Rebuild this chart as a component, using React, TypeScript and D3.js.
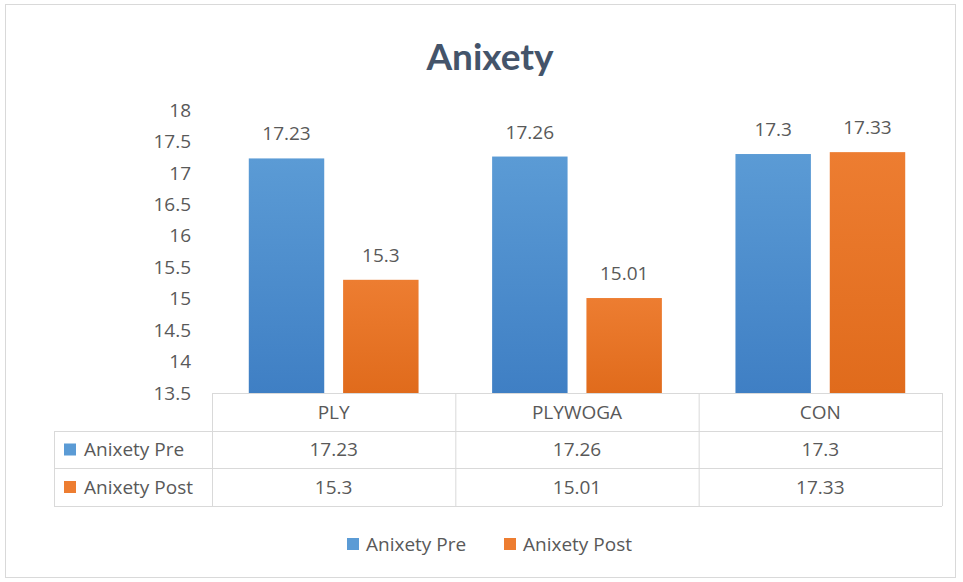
import React from "react";
import * as d3 from "d3";

const categories = ["PLY", "PLYWOGA", "CON"];
const seriesNames = ["Anixety Pre", "Anixety Post"];
const preValues = [17.23, 17.26, 17.3];
const postValues = [15.3, 15.01, 17.33];
const yTicks = [13.5, 14, 14.5, 15, 15.5, 16, 16.5, 17, 17.5, 18];
const title = "Anixety";

const W = 963;
const H = 582;
const FONT = "'Open Sans', Lato, sans-serif";
const TXT = "#595959";
const COLORS = ["#5b9bd5", "#ed7d31"];
const DARK = ["#3f7fc4", "#e06b1c"];
const FS = 19;

export default function App() {
  const left = 212;
  const right = 942;
  const top = 110;
  const bottom = 393;
  const y = d3.scaleLinear().domain([13.5, 18]).range([bottom, top]);
  const x = d3.scaleBand<string>().domain(categories).range([left, right]);
  const inner = d3
    .scaleBand<string>()
    .domain(seriesNames)
    .range([0, x.bandwidth()])
    .paddingInner(0.2)
    .paddingOuter(0.39);
  const series = [preValues, postValues];
  const tableLeft = 54;
  const rowH = [bottom, 431, 468, 506];

  return (
    <svg width={W} height={H} style={{ position: "absolute", left: 0, top: 0 }} fontFamily={FONT}>
      <defs>
        {COLORS.map((c, i) => (
          <linearGradient key={i} id={`g${i}`} x1="0" y1="0" x2="0" y2="1">
            <stop offset="0" stopColor={c} />
            <stop offset="1" stopColor={DARK[i]} />
          </linearGradient>
        ))}
      </defs>
      <rect x={0} y={0} width={W} height={H} fill="#fff" />
      <rect x={5.5} y={4.5} width={950} height={573} fill="#fff" stroke="#d9d9d9" />
      <text x={490} y={70} textAnchor="middle" fontSize={37} fontWeight="bold" fill="#44546a" fontFamily="Lato, sans-serif">
        {title}
      </text>
      {yTicks.map((t) => (
        <text key={t} x={191} y={y(t)} dy="0.35em" textAnchor="end" fontSize={FS} fill={TXT}>
          {t}
        </text>
      ))}
      {categories.map((c, ci) =>
        series.map((vals, si) => {
          const bx = (x(c) as number) + (inner(seriesNames[si]) as number);
          const bw = inner.bandwidth();
          return (
            <g key={`${c}-${si}`}>
              <rect x={bx} y={y(vals[ci])} width={bw} height={bottom - y(vals[ci])} fill={`url(#g${si})`} />
              <text x={bx + bw / 2} y={y(vals[ci]) - 18} textAnchor="middle" fontSize={FS} fill={TXT}>
                {vals[ci]}
              </text>
            </g>
          );
        })
      )}
      {/* data table */}
      <g stroke="#d9d9d9" strokeWidth={1} fill="none">
        <line x1={left} x2={right} y1={rowH[0] + 0.5} y2={rowH[0] + 0.5} />
        <line x1={tableLeft} x2={right} y1={rowH[1] + 0.5} y2={rowH[1] + 0.5} />
        <line x1={tableLeft} x2={right} y1={rowH[2] + 0.5} y2={rowH[2] + 0.5} />
        <line x1={tableLeft} x2={right} y1={rowH[3] + 0.5} y2={rowH[3] + 0.5} />
        <line x1={tableLeft + 0.5} x2={tableLeft + 0.5} y1={rowH[1]} y2={rowH[3]} />
        {categories.map((c) => (
          <line key={c} x1={(x(c) as number) + 0.5} x2={(x(c) as number) + 0.5} y1={rowH[0]} y2={rowH[3]} />
        ))}
        <line x1={right + 0.5} x2={right + 0.5} y1={rowH[0]} y2={rowH[3]} />
      </g>
      {categories.map((c) => (
        <text key={c} x={(x(c) as number) + x.bandwidth() / 2} y={(rowH[0] + rowH[1]) / 2} dy="0.35em" textAnchor="middle" fontSize={FS} fill={TXT}>
          {c}
        </text>
      ))}
      {series.map((vals, si) => (
        <g key={si}>
          <rect x={tableLeft + 10} y={(rowH[si + 1] + rowH[si + 2]) / 2 - 6} width={12} height={12} fill={COLORS[si]} />
          <text x={tableLeft + 30} y={(rowH[si + 1] + rowH[si + 2]) / 2} dy="0.35em" fontSize={FS} fill={TXT}>
            {seriesNames[si]}
          </text>
          {categories.map((c, ci) => (
            <text key={c} x={(x(c) as number) + x.bandwidth() / 2} y={(rowH[si + 1] + rowH[si + 2]) / 2} dy="0.35em" textAnchor="middle" fontSize={FS} fill={TXT}>
              {vals[ci]}
            </text>
          ))}
        </g>
      ))}
      {/* legend */}
      {seriesNames.map((n, i) => {
        const lx = [347, 504][i];
        return (
          <g key={n}>
            <rect x={lx} y={538} width={12} height={12} fill={COLORS[i]} />
            <text x={lx + 19} y={544} dy="0.35em" fontSize={FS} fill={TXT}>
              {n}
            </text>
          </g>
        );
      })}
    </svg>
  );
}
